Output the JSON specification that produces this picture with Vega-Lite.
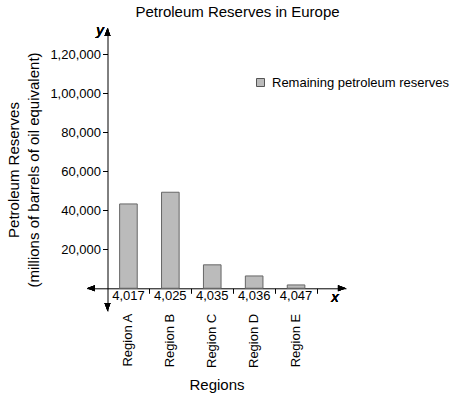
{
  "$schema": "https://vega.github.io/schema/vega-lite/v6.json",
  "width": 259,
  "height": 283,
  "autosize": {"type": "none"},
  "padding": {"left": 87, "top": 28, "right": 104, "bottom": 84},
  "title": {"text": "Petroleum Reserves in Europe", "fontSize": 15, "fontWeight": "normal", "color": "black", "anchor": "middle", "dx": 21, "offset": 3},
  "config": {"view": {"stroke": null}, "font": "Liberation Sans"},
  "data": {
    "values": [
      {"region": "Region A", "code": "4,017", "reserves": 43200},
      {"region": "Region B", "code": "4,025", "reserves": 49200},
      {"region": "Region C", "code": "4,035", "reserves": 12000},
      {"region": "Region D", "code": "4,036", "reserves": 6300},
      {"region": "Region E", "code": "4,047", "reserves": 1700}
    ]
  },
  "layer": [
    {
      "mark": {"type": "bar", "stroke": "#666666", "strokeWidth": 1, "width": {"band": 0.42}},
      "encoding": {
        "x": {
          "field": "region", "type": "nominal", "sort": null,
          "scale": {"type": "band", "paddingInner": 0, "paddingOuter": 0.59, "align": 0.414},
          "axis": {
            "orient": "bottom", "offset": -22.7, "domainColor": "black", "tickColor": "black",
            "tickSize": 5, "bandPosition": 1, "labelAngle": 270, "labelAlign": "right",
            "labelBaseline": "middle", "labelPadding": 20,
            "labelFontSize": 13, "labelColor": "black",
            "title": "Regions", "titleFontSize": 15, "titleFontWeight": "normal", "titleColor": "black", "titlePadding": 10
          }
        },
        "y": {
          "field": "reserves", "type": "quantitative",
          "scale": {"domain": [-11650, 133350], "nice": false, "zero": false},
          "axis": {
            "values": [20000, 40000, 60000, 80000, 100000, 120000],
            "offset": -20.5, "domainColor": "black", "tickColor": "black", "tickSize": 5,
            "labelFontSize": 13, "labelColor": "black", "labelPadding": 2, "grid": false,
            "labelExpr": "datum.value >= 100000 ? floor(datum.value / 100000) + ',' + substring(format(datum.value % 100000 + 100000, ','), 1) : format(datum.value, ',')",
            "title": ["Petroleum Reserves", "(millions of barrels of oil equivalent)"],
            "titleFontSize": 15, "titleFontWeight": "normal", "titleColor": "black", "titlePadding": 8, "titleLineHeight": 20
          }
        },
        "color": {
          "datum": "Remaining petroleum reserves",
          "scale": {"range": ["#bbbbbb"]},
          "legend": {
            "title": null, "orient": "none", "legendX": 167, "legendY": 48, "padding": 0,
            "symbolType": "square", "symbolSize": 64, "symbolStrokeColor": "#555555", "symbolStrokeWidth": 1,
            "labelFontSize": 13, "labelColor": "black", "labelOffset": 5, "labelLimit": 0
          }
        }
      }
    },
    {
      "mark": {"type": "text", "baseline": "top", "fontSize": 13, "dy": 2, "color": "black"},
      "encoding": {
        "x": {"field": "region", "type": "nominal", "sort": null},
        "y": {"datum": 0, "type": "quantitative"},
        "text": {"field": "code"}
      }
    },
    {
      "mark": {"type": "point", "shape": "M0,0L0.75,2L-0.75,2Z", "size": 64, "filled": true, "color": "black", "opacity": 1},
      "encoding": {
        "x": {"datum": "Region A", "type": "nominal", "bandPosition": 0},
        "y": {"datum": 133350, "type": "quantitative"}
      }
    },
    {
      "mark": {"type": "point", "shape": "M0,0L0.75,-2L-0.75,-2Z", "size": 64, "filled": true, "color": "black", "opacity": 1},
      "encoding": {
        "x": {"datum": "Region A", "type": "nominal", "bandPosition": 0},
        "y": {"datum": -11650, "type": "quantitative"}
      }
    },
    {
      "mark": {"type": "point", "shape": "M0,0L2,-0.75L2,0.75Z", "size": 64, "filled": true, "color": "black", "opacity": 1},
      "encoding": {
        "x": {"datum": "Region A", "type": "nominal", "bandPosition": -0.49},
        "y": {"datum": 0, "type": "quantitative"}
      }
    },
    {
      "mark": {"type": "point", "shape": "M0,0L-2,-0.75L-2,0.75Z", "size": 64, "filled": true, "color": "black", "opacity": 1},
      "encoding": {
        "x": {"datum": "Region E", "type": "nominal", "bandPosition": 1.69},
        "y": {"datum": 0, "type": "quantitative"}
      }
    },
    {
      "mark": {"type": "text", "text": "y", "fontSize": 15, "fontStyle": "italic", "fontWeight": "normal", "baseline": "alphabetic", "dy": 7, "color": "black"},
      "encoding": {
        "x": {"datum": "Region A", "type": "nominal", "bandPosition": -0.18},
        "y": {"datum": 133350, "type": "quantitative"}
      }
    },
    {
      "mark": {"type": "text", "text": "x", "fontSize": 15, "fontStyle": "italic", "fontWeight": "normal", "baseline": "alphabetic", "dy": 13.7, "color": "black"},
      "encoding": {
        "x": {"datum": "Region E", "type": "nominal", "bandPosition": 1.43},
        "y": {"datum": 0, "type": "quantitative"}
      }
    }
  ]
}
